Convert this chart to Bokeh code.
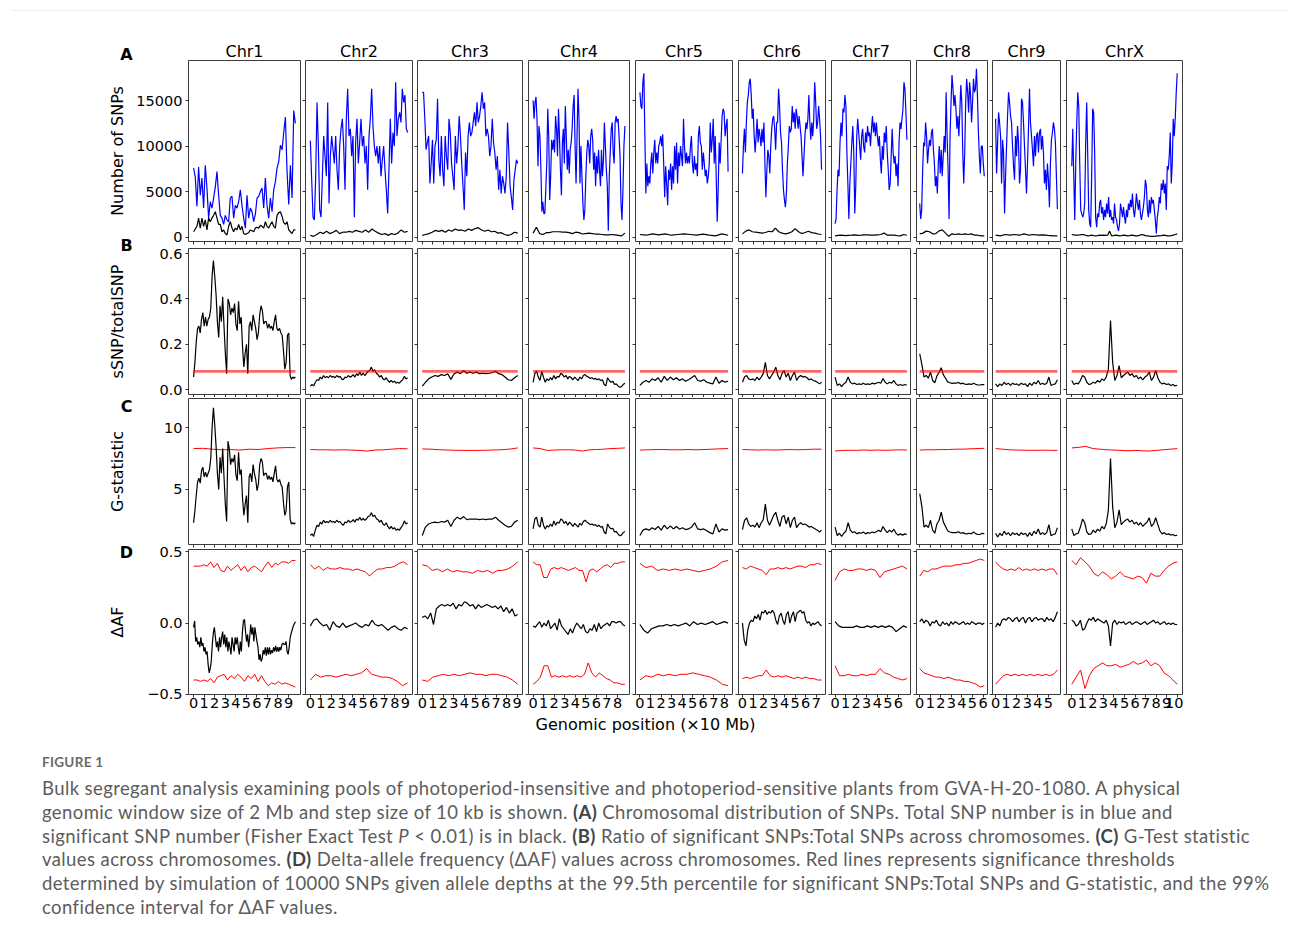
import math
import numpy as np
from bokeh.plotting import figure
from bokeh.layouts import row, column
from bokeh.models import Div, FixedTicker, Label, Range1d
from bokeh.embed import file_html
from bokeh.resources import INLINE

# ---------------- data ----------------
chromosomes = ["Chr1", "Chr2", "Chr3", "Chr4", "Chr5", "Chr6", "Chr7", "Chr8", "Chr9", "ChrX"]
chrom_len_mb = [96.5, 92.2, 90.5, 87.0, 83.6, 75.0, 68.1, 61.2, 58.6, 100.0]
x_tick_max = [9, 9, 9, 8, 8, 7, 6, 6, 5, 10]

# (A) total SNPs (thousands, blue) and significant SNPs (thousands, black)
total_k_chr1 = [7.6, 6.6, 3.4, 7.7, 4.6, 6.5, 3.2, 7.9, 5.4, 2.1, 3.9, 3.2, 4.3, 5.5, 7.2, 4.6, 2.4, 2.1, 1.4, 2.4, 1.9, 1.7, 4.3, 4.5, 2.1, 3.5, 3.2, 3.9, 5.2, 3.5, 2.1, 1.0, 4.6, 2.1, 3.2, 2.8, 1.7, 2.5, 4.3, 4.5, 5.0, 5.4, 3.2, 6.5, 3.5, 2.1, 4.3, 2.8, 5.2, 6.1, 7.6, 8.3, 10.1, 9.6, 11.5, 13.2, 7.2, 3.6, 7.9, 4.3, 13.9, 12.5]
total_k_chr2 = [10.6, 6.3, 2.2, 1.9, 6.7, 14.8, 10.0, 3.0, 2.2, 6.7, 11.1, 8.9, 6.7, 14.8, 3.7, 8.9, 11.1, 9.6, 8.1, 11.1, 7.4, 5.2, 10.0, 11.9, 13.0, 10.0, 5.2, 13.0, 16.3, 11.1, 11.9, 8.9, 11.1, 2.2, 10.4, 13.0, 8.1, 10.4, 13.0, 10.0, 11.1, 8.1, 10.0, 5.2, 11.1, 13.0, 16.3, 12.2, 10.0, 8.9, 10.0, 8.1, 10.0, 6.7, 8.5, 10.0, 7.4, 5.2, 2.6, 7.4, 13.0, 8.1, 11.5, 10.0, 17.0, 11.1, 13.0, 13.7, 12.6, 16.3, 14.8, 15.6, 11.9, 11.5]
total_k_chr3 = [15.9, 15.9, 13.0, 9.6, 10.4, 11.1, 5.9, 8.1, 10.7, 5.9, 10.0, 10.7, 15.2, 8.5, 6.7, 11.1, 7.4, 5.6, 11.1, 8.9, 7.4, 13.0, 11.5, 8.1, 6.7, 5.2, 11.1, 8.1, 10.0, 13.3, 11.1, 8.1, 5.6, 3.0, 9.3, 6.7, 11.1, 12.6, 11.1, 11.5, 12.6, 13.7, 12.2, 14.8, 12.6, 13.3, 14.4, 15.9, 14.1, 14.8, 11.1, 11.9, 11.1, 8.9, 10.0, 13.0, 10.4, 9.3, 7.4, 8.9, 5.2, 7.4, 4.8, 6.7, 5.9, 4.8, 6.7, 12.6, 9.3, 5.6, 4.4, 3.0, 6.3, 7.4, 8.5, 8.1]
total_k_chr4 = [15.0, 13.0, 14.8, 15.4, 13.0, 7.8, 12.2, 11.1, 7.4, 2.8, 3.9, 2.6, 2.6, 5.2, 8.1, 14.1, 11.1, 4.1, 6.7, 10.7, 9.6, 10.7, 9.3, 13.3, 11.9, 8.9, 14.1, 11.1, 7.4, 4.6, 10.4, 11.9, 8.1, 14.4, 11.1, 7.4, 9.6, 7.0, 9.6, 10.4, 11.9, 14.4, 15.6, 10.0, 5.9, 11.1, 16.3, 13.0, 5.9, 10.0, 6.7, 3.7, 1.9, 3.0, 6.7, 9.3, 10.7, 10.0, 8.1, 11.1, 11.9, 10.7, 7.4, 9.3, 5.6, 8.9, 7.0, 9.6, 7.4, 5.6, 9.6, 6.7, 8.5, 12.6, 10.0, 7.4, 5.6, 0.7, 6.7, 9.3, 11.9, 12.6, 9.3, 8.1, 12.6, 13.3, 12.6, 13.0, 11.1, 8.9, 3.7, 1.9, 5.2, 10.0, 12.2]
total_k_chr5 = [15.9, 14.4, 14.1, 17.0, 18.0, 11.1, 4.8, 8.1, 5.6, 6.7, 5.9, 8.1, 9.3, 7.0, 9.3, 10.7, 8.1, 9.3, 8.1, 10.0, 10.4, 11.1, 10.0, 11.3, 8.1, 4.4, 7.8, 5.9, 3.5, 7.4, 6.3, 8.1, 5.2, 7.8, 5.9, 10.0, 7.4, 10.4, 5.9, 9.3, 7.8, 10.0, 8.9, 7.8, 13.0, 10.0, 8.1, 9.3, 8.1, 8.9, 8.1, 10.0, 11.1, 8.1, 7.0, 8.9, 7.4, 8.1, 6.7, 11.1, 12.2, 10.4, 10.0, 7.4, 9.3, 8.1, 6.7, 7.4, 5.9, 6.7, 8.1, 12.6, 9.3, 10.7, 13.0, 8.1, 11.1, 6.7, 1.7, 5.2, 10.4, 8.1, 10.7, 13.3, 14.1, 13.7, 11.1, 12.2, 13.0, 7.2]
total_k_chr6 = [7.0, 10.0, 11.9, 9.3, 12.6, 14.8, 15.6, 17.0, 17.4, 15.6, 13.0, 14.1, 11.1, 9.3, 11.1, 13.0, 10.4, 11.9, 11.1, 10.0, 11.9, 10.4, 12.6, 8.1, 4.4, 7.4, 9.6, 8.9, 7.0, 10.0, 11.9, 13.0, 13.3, 11.9, 9.6, 12.6, 12.6, 16.3, 14.4, 11.5, 10.4, 7.4, 5.2, 4.1, 3.3, 4.8, 8.1, 10.0, 12.2, 11.5, 11.9, 14.4, 12.6, 13.7, 11.9, 14.1, 13.3, 11.9, 13.3, 12.2, 11.1, 8.9, 6.7, 8.9, 11.1, 12.6, 11.9, 13.0, 15.6, 12.6, 10.7, 12.6, 11.1, 13.0, 17.0, 14.8, 11.9, 12.6, 14.4, 13.0, 11.1, 7.4]
total_k_chr7 = [1.5, 2.0, 5.2, 7.4, 6.7, 10.4, 12.6, 11.1, 14.1, 13.7, 15.6, 14.4, 9.3, 5.9, 2.0, 5.9, 8.1, 10.4, 12.2, 9.3, 2.6, 5.6, 11.1, 13.0, 11.5, 10.0, 8.5, 11.1, 11.9, 10.0, 9.3, 11.5, 10.4, 12.2, 11.1, 11.5, 10.0, 11.9, 13.3, 11.5, 12.6, 11.1, 12.6, 11.1, 10.0, 11.1, 8.5, 7.0, 10.0, 8.5, 11.5, 10.4, 12.2, 9.3, 7.4, 5.2, 5.9, 8.9, 11.9, 9.3, 8.1, 8.9, 6.7, 8.1, 5.6, 10.4, 12.6, 11.9, 13.0, 14.1, 17.0, 16.3, 13.7, 10.7]
total_k_chr8 = [3.7, 2.0, 3.0, 7.4, 10.4, 10.0, 12.6, 11.1, 8.1, 9.6, 10.7, 10.0, 11.5, 11.9, 9.6, 8.1, 5.6, 6.7, 4.8, 8.1, 10.0, 7.0, 9.6, 6.7, 8.9, 11.1, 9.3, 15.9, 11.1, 7.4, 2.0, 11.1, 14.8, 17.8, 16.3, 14.4, 15.6, 14.1, 11.9, 13.3, 11.1, 13.7, 16.7, 14.8, 9.3, 5.9, 9.3, 14.8, 17.4, 15.9, 13.7, 17.0, 15.6, 12.6, 14.8, 17.4, 15.9, 16.3, 18.5, 15.6, 11.5, 8.9, 7.0, 10.0, 10.0, 8.1, 6.7]
total_k_chr9 = [13.0, 7.0, 10.4, 13.7, 12.6, 11.1, 5.9, 10.7, 9.3, 2.6, 6.7, 10.0, 13.3, 15.9, 14.8, 13.3, 12.6, 10.0, 7.8, 6.3, 11.1, 8.9, 12.2, 10.4, 5.9, 7.4, 15.2, 14.8, 12.6, 10.0, 7.4, 4.8, 8.1, 11.9, 16.3, 12.6, 11.1, 9.6, 7.8, 11.1, 8.9, 11.1, 11.5, 9.3, 11.5, 11.9, 9.6, 11.1, 9.3, 5.9, 7.4, 5.2, 8.1, 6.3, 3.3, 8.1, 10.7, 11.5, 12.6, 11.9, 10.4, 6.7, 3.1]
total_k_chrX = [7.8, 11.9, 6.7, 1.9, 8.1, 12.6, 15.9, 14.4, 8.1, 3.0, 2.6, 2.2, 2.6, 3.7, 10.4, 14.8, 9.3, 3.0, 1.5, 1.1, 6.7, 14.1, 13.7, 9.3, 2.2, 1.1, 2.6, 2.2, 3.7, 4.1, 2.6, 3.3, 1.9, 3.0, 2.2, 3.7, 2.6, 4.4, 2.2, 3.0, 1.9, 2.2, 1.5, 3.7, 2.2, 1.9, 1.1, 0.7, 1.5, 3.7, 3.0, 2.2, 3.3, 2.2, 1.5, 3.0, 2.2, 3.7, 3.0, 4.1, 3.3, 4.8, 3.0, 2.2, 3.3, 4.8, 3.7, 3.0, 4.1, 2.6, 1.9, 2.6, 3.3, 4.4, 6.3, 5.6, 3.0, 2.2, 4.1, 2.6, 4.4, 3.7, 4.1, 3.0, 1.9, 0.4, 2.2, 3.0, 4.4, 3.7, 5.9, 5.2, 6.3, 4.8, 5.9, 3.0, 7.8, 7.4, 8.9, 11.5, 5.9, 8.1, 13.0, 11.1, 13.0, 15.9, 18.0]

sig_k_chr1 = [0.6, 0.9, 1.2, 2.1, 1.0, 2.1, 1.2, 1.9, 0.8, 2.1, 1.7, 2.1, 2.4, 2.8, 2.1, 1.4, 1.4, 0.6, 0.8, 0.4, 0.25, 1.2, 1.7, 1.0, 0.6, 1.0, 0.8, 1.4, 0.8, 1.2, 0.4, 0.3, 0.4, 0.5, 0.8, 0.7, 0.6, 1.0, 1.1, 1.0, 1.3, 1.2, 1.0, 1.7, 1.2, 1.0, 1.4, 1.7, 1.2, 1.0, 2.4, 2.7, 2.8, 2.3, 1.6, 1.4, 1.7, 0.8, 0.6, 0.4, 0.8, 0.8]
sig_k_chr2 = [0.2, 0.1, 0.3, 0.55, 0.4, 0.65, 0.4, 0.55, 0.75, 0.4, 0.55, 0.55, 0.65, 0.55, 0.75, 0.65, 0.55, 0.8, 0.55, 0.9, 0.65, 0.45, 0.3, 0.4, 0.2, 0.4, 0.3, 0.45, 0.8, 0.55, 0.65]
sig_k_chr3 = [0.2, 0.3, 0.4, 0.55, 0.75, 0.65, 0.75, 0.55, 0.8, 0.65, 0.9, 0.75, 0.8, 0.65, 0.9, 0.75, 0.95, 1.05, 0.8, 0.65, 0.8, 0.6, 0.65, 0.45, 0.5, 0.3, 0.2, 0.3, 0.55, 0.45]
sig_k_chr4 = [0.45, 1.1, 0.4, 0.3, 0.5, 0.5, 0.6, 0.6, 0.6, 0.55, 0.55, 0.5, 0.4, 0.55, 0.5, 0.35, 0.4, 0.45, 0.4, 0.35, 0.35, 0.3, 0.25, 0.25, 0.3, 0.25, 0.2, 0.15, 0.45]
sig_k_chr5 = [0.3, 0.22, 0.37, 0.26, 0.37, 0.22, 0.3, 0.37, 0.3, 0.22, 0.33, 0.22, 0.15, 0.37, 0.22]
sig_k_chr6 = [0.37, 0.67, 0.8, 0.6, 0.55, 0.5, 0.45, 0.52, 0.65, 0.6, 1.0, 0.6, 0.45, 0.37, 0.45, 0.6, 0.95, 0.6, 0.4, 0.52, 0.65, 0.5, 0.45, 0.35, 0.3]
sig_k_chr7 = [0.15, 0.2, 0.22, 0.18, 0.2, 0.22, 0.26, 0.2, 0.22, 0.26, 0.26, 0.22, 0.22, 0.26, 0.3, 0.45, 0.22, 0.22, 0.22, 0.18, 0.15, 0.3, 0.22]
sig_k_chr8 = [0.37, 0.45, 0.67, 0.6, 0.37, 0.4, 0.7, 0.8, 0.45, 0.1, 0.37, 0.3, 0.37, 0.3, 0.37, 0.3, 0.37, 0.22, 0.22, 0.15, 0.15]
sig_k_chr9 = [0.22, 0.15, 0.3, 0.22, 0.3, 0.22, 0.37, 0.22, 0.3, 0.22, 0.26, 0.2, 0.15, 0.15]
sig_k_chrX = [0.3, 0.25, 0.22, 0.22, 0.25, 0.3, 0.28, 0.22, 0.15, 0.18, 0.22, 0.18, 0.15, 0.18, 0.22, 0.2, 0.22, 0.2, 0.22, 0.67, 0.15, 0.18, 0.22, 0.2, 0.15, 0.18, 0.22, 0.2, 0.15, 0.18, 0.22, 0.2, 0.15, 0.15, 0.2, 0.3, 0.25, 0.18, 0.15, 0.12, 0.1, 0.1, 0.12, 0.15, 0.15, 0.18, 0.22, 0.2, 0.15, 0.15, 0.18, 0.22, 0.3, 0.37]

# (B) ratio of significant to total SNPs
ratio_threshold = 0.08
ratio_chr1 = [0.055, 0.12, 0.21, 0.27, 0.28, 0.25, 0.31, 0.34, 0.28, 0.32, 0.28, 0.31, 0.32, 0.36, 0.50, 0.57, 0.50, 0.42, 0.30, 0.23, 0.37, 0.30, 0.41, 0.28, 0.16, 0.07, 0.40, 0.38, 0.33, 0.36, 0.34, 0.38, 0.29, 0.26, 0.39, 0.29, 0.32, 0.19, 0.10, 0.16, 0.20, 0.07, 0.28, 0.30, 0.26, 0.33, 0.30, 0.27, 0.22, 0.25, 0.33, 0.37, 0.35, 0.29, 0.30, 0.30, 0.27, 0.29, 0.27, 0.28, 0.26, 0.30, 0.33, 0.27, 0.26, 0.27, 0.25, 0.24, 0.17, 0.09, 0.12, 0.24, 0.25, 0.06, 0.045, 0.055, 0.05, 0.055]
ratio_chr2 = [0.015, 0.022, 0.016, 0.032, 0.043, 0.04, 0.055, 0.047, 0.062, 0.052, 0.058, 0.052, 0.062, 0.055, 0.058, 0.052, 0.062, 0.055, 0.058, 0.047, 0.043, 0.055, 0.052, 0.062, 0.055, 0.058, 0.066, 0.055, 0.07, 0.062, 0.077, 0.062, 0.072, 0.062, 0.07, 0.081, 0.084, 0.099, 0.081, 0.087, 0.072, 0.066, 0.055, 0.062, 0.047, 0.043, 0.052, 0.04, 0.032, 0.04, 0.032, 0.037, 0.028, 0.032, 0.028, 0.037, 0.043, 0.058, 0.047, 0.052]
ratio_chr3 = [0.015, 0.032, 0.047, 0.055, 0.062, 0.058, 0.066, 0.062, 0.07, 0.045, 0.07, 0.077, 0.07, 0.084, 0.072, 0.077, 0.072, 0.077, 0.07, 0.072, 0.07, 0.072, 0.075, 0.081, 0.07, 0.066, 0.055, 0.043, 0.04, 0.052, 0.062]
ratio_chr4 = [0.032, 0.07, 0.081, 0.055, 0.04, 0.08, 0.055, 0.032, 0.047, 0.04, 0.052, 0.043, 0.062, 0.047, 0.058, 0.055, 0.072, 0.066, 0.055, 0.062, 0.047, 0.058, 0.052, 0.043, 0.055, 0.047, 0.04, 0.055, 0.047, 0.062, 0.066, 0.058, 0.055, 0.049, 0.052, 0.046, 0.049, 0.043, 0.047, 0.04, 0.043, 0.022, 0.016, 0.052, 0.04, 0.032, 0.037, 0.022, 0.025, 0.016, 0.01, 0.013, 0.022, 0.028]
ratio_chr5 = [0.018, 0.032, 0.04, 0.032, 0.047, 0.04, 0.052, 0.032, 0.058, 0.04, 0.055, 0.043, 0.052, 0.04, 0.047, 0.037, 0.043, 0.052, 0.062, 0.04, 0.037, 0.043, 0.032, 0.028, 0.025, 0.055, 0.028, 0.04, 0.032, 0.037]
ratio_chr6 = [0.032, 0.055, 0.062, 0.047, 0.043, 0.047, 0.04, 0.055, 0.043, 0.055, 0.07, 0.12, 0.062, 0.047, 0.062, 0.077, 0.099, 0.062, 0.043, 0.07, 0.084, 0.055, 0.072, 0.04, 0.062, 0.077, 0.04, 0.055, 0.062, 0.055, 0.058, 0.052, 0.043, 0.047, 0.04, 0.037, 0.032, 0.025, 0.032]
ratio_chr7 = [0.055, 0.018, 0.025, 0.013, 0.025, 0.032, 0.055, 0.032, 0.025, 0.028, 0.022, 0.025, 0.022, 0.028, 0.022, 0.025, 0.022, 0.028, 0.025, 0.028, 0.032, 0.028, 0.049, 0.032, 0.025, 0.032, 0.028, 0.04, 0.025, 0.018, 0.022, 0.018, 0.022, 0.019]
ratio_chr8 = [0.158, 0.11, 0.055, 0.062, 0.05, 0.077, 0.04, 0.03, 0.06, 0.075, 0.096, 0.065, 0.05, 0.034, 0.03, 0.027, 0.028, 0.028, 0.031, 0.025, 0.028, 0.024, 0.023, 0.025, 0.022, 0.028, 0.023, 0.02, 0.02, 0.022, 0.022]
ratio_chr9 = [0.025, 0.013, 0.025, 0.018, 0.032, 0.022, 0.028, 0.018, 0.028, 0.022, 0.025, 0.018, 0.028, 0.022, 0.025, 0.013, 0.028, 0.018, 0.032, 0.025, 0.04, 0.022, 0.028, 0.022, 0.028, 0.055, 0.018, 0.022, 0.025, 0.043]
ratio_chrX = [0.04, 0.022, 0.028, 0.025, 0.04, 0.062, 0.055, 0.032, 0.022, 0.025, 0.032, 0.028, 0.04, 0.032, 0.047, 0.04, 0.055, 0.09, 0.305, 0.12, 0.04, 0.062, 0.106, 0.052, 0.062, 0.07, 0.077, 0.062, 0.07, 0.055, 0.062, 0.047, 0.055, 0.043, 0.055, 0.062, 0.077, 0.04, 0.055, 0.084, 0.052, 0.032, 0.025, 0.028, 0.022, 0.025, 0.018, 0.022, 0.016, 0.019]

# (C) G-statistic and its threshold
gstat_chr1 = [2.3, 3.3, 4.5, 5.6, 5.9, 5.5, 6.5, 6.8, 6.0, 6.4, 6.0, 6.3, 6.6, 7.5, 10.0, 11.6, 10.2, 8.5, 6.3, 5.0, 7.6, 6.3, 8.3, 6.0, 3.8, 2.4, 8.9, 8.3, 7.0, 7.5, 7.2, 7.8, 6.2, 5.7, 8.0, 6.2, 6.6, 4.3, 2.9, 3.8, 4.5, 2.3, 6.0, 6.3, 5.6, 7.0, 6.3, 5.8, 4.9, 5.4, 7.0, 7.5, 7.2, 6.1, 6.3, 6.3, 5.8, 6.1, 5.8, 6.0, 5.6, 6.3, 6.9, 5.8, 5.6, 5.8, 5.4, 5.2, 3.9, 2.9, 3.3, 5.2, 5.6, 2.6, 2.2, 2.3, 2.2, 2.3]
gstat_chr2 = [1.27, 1.4, 1.2, 1.7, 2.1, 2.0, 2.35, 2.2, 2.5, 2.3, 2.4, 2.3, 2.5, 2.35, 2.4, 2.3, 2.5, 2.35, 2.4, 2.2, 2.1, 2.35, 2.3, 2.5, 2.35, 2.4, 2.55, 2.35, 2.6, 2.5, 2.75, 2.5, 2.65, 2.5, 2.6, 2.8, 2.85, 3.1, 2.8, 2.9, 2.65, 2.55, 2.35, 2.5, 2.2, 2.1, 2.3, 2.0, 1.8, 2.0, 1.8, 1.9, 1.7, 1.8, 1.7, 1.9, 2.1, 2.45, 2.2, 2.3]
gstat_chr3 = [1.27, 1.95, 2.2, 2.3, 2.35, 2.3, 2.4, 2.35, 2.5, 2.0, 2.5, 2.75, 2.6, 2.8, 2.55, 2.6, 2.6, 2.6, 2.55, 2.6, 2.55, 2.6, 2.6, 2.75, 2.5, 2.3, 2.1, 1.95, 2.0, 2.35, 2.5]
gstat_chr4 = [1.8, 2.6, 2.75, 2.1, 1.95, 2.75, 2.1, 1.8, 2.05, 1.95, 2.2, 2.0, 2.45, 2.1, 2.35, 2.25, 2.6, 2.5, 2.25, 2.4, 2.1, 2.35, 2.2, 2.0, 2.25, 2.1, 1.95, 2.25, 2.1, 2.4, 2.5, 2.35, 2.25, 2.15, 2.2, 2.1, 2.15, 2.0, 2.1, 1.95, 2.0, 1.55, 1.4, 2.2, 1.95, 1.8, 1.85, 1.55, 1.6, 1.4, 1.25, 1.3, 1.5, 1.6]
gstat_chr5 = [1.27, 1.7, 1.8, 1.7, 1.9, 1.75, 2.0, 1.7, 2.1, 1.8, 2.05, 1.8, 2.0, 1.78, 1.9, 1.75, 1.8, 1.95, 2.3, 1.8, 1.75, 1.8, 1.65, 1.5, 1.4, 2.2, 1.55, 1.8, 1.7, 1.75]
gstat_chr6 = [1.75, 2.5, 2.7, 2.2, 2.0, 2.1, 1.95, 2.3, 1.9, 2.3, 2.55, 3.8, 2.5, 2.1, 2.5, 2.9, 3.15, 2.5, 2.0, 2.75, 2.9, 2.2, 2.75, 1.9, 2.5, 2.75, 1.9, 2.15, 2.3, 2.15, 2.2, 2.1, 1.95, 2.0, 1.9, 1.8, 1.7, 1.55, 1.7]
gstat_chr7 = [1.95, 1.27, 1.45, 1.2, 1.45, 1.62, 2.3, 1.7, 1.5, 1.57, 1.4, 1.5, 1.45, 1.55, 1.4, 1.5, 1.45, 1.55, 1.5, 1.57, 1.7, 1.57, 2.0, 1.7, 1.5, 1.7, 1.55, 1.78, 1.45, 1.3, 1.4, 1.3, 1.4, 1.35]
gstat_chr8 = [4.65, 3.6, 1.95, 2.1, 1.9, 2.5, 1.7, 1.45, 2.2, 2.5, 3.15, 2.35, 2.0, 1.65, 1.55, 1.5, 1.5, 1.5, 1.57, 1.45, 1.5, 1.42, 1.4, 1.45, 1.4, 1.55, 1.42, 1.35, 1.35, 1.45, 1.4]
gstat_chr9 = [1.45, 1.15, 1.45, 1.25, 1.62, 1.35, 1.5, 1.25, 1.5, 1.35, 1.45, 1.25, 1.5, 1.35, 1.45, 1.2, 1.5, 1.25, 1.62, 1.4, 1.8, 1.35, 1.5, 1.35, 1.5, 2.15, 1.25, 1.35, 1.4, 1.9]
gstat_chrX = [1.8, 1.27, 1.4, 1.45, 1.95, 2.6, 2.3, 1.55, 1.35, 1.4, 1.7, 1.5, 1.78, 1.62, 2.0, 1.8, 2.2, 3.3, 7.5, 3.6, 1.9, 2.35, 3.35, 2.15, 2.35, 2.5, 2.6, 2.35, 2.5, 2.2, 2.35, 2.1, 2.3, 2.0, 2.2, 2.35, 2.7, 2.0, 2.2, 2.7, 2.15, 1.62, 1.4, 1.5, 1.35, 1.4, 1.3, 1.35, 1.25, 1.3]

gthr_chr1 = [8.3, 8.32, 8.25, 8.2, 8.22, 8.18, 8.25, 8.22, 8.3, 8.35, 8.38, 8.38]
gthr_chr2 = [8.22, 8.2, 8.2, 8.18, 8.2, 8.18, 8.15, 8.1, 8.18, 8.2, 8.25, 8.3, 8.28]
gthr_chr3 = [8.27, 8.25, 8.2, 8.18, 8.16, 8.15, 8.15, 8.16, 8.18, 8.2, 8.25, 8.35]
gthr_chr4 = [8.35, 8.3, 8.15, 8.18, 8.2, 8.2, 8.18, 8.1, 8.2, 8.22, 8.25, 8.3, 8.32, 8.35]
gthr_chr5 = [8.18, 8.2, 8.22, 8.22, 8.2, 8.2, 8.22, 8.2, 8.22, 8.25, 8.28, 8.3]
gthr_chr6 = [8.22, 8.2, 8.18, 8.2, 8.18, 8.2, 8.22, 8.2, 8.22, 8.25, 8.25]
gthr_chr7 = [8.1, 8.15, 8.16, 8.16, 8.18, 8.16, 8.18, 8.16, 8.18, 8.2, 8.18]
gthr_chr8 = [8.18, 8.2, 8.2, 8.22, 8.22, 8.25, 8.25, 8.28, 8.3, 8.32]
gthr_chr9 = [8.3, 8.25, 8.2, 8.18, 8.17, 8.16, 8.16, 8.17, 8.16, 8.15]
gthr_chrX = [8.35, 8.4, 8.48, 8.3, 8.25, 8.2, 8.18, 8.15, 8.12, 8.15, 8.12, 8.1, 8.15, 8.2, 8.25, 8.3]

# (D) delta allele frequency with 99% confidence interval
daf_chr1 = [-0.03, 0.015, -0.13, -0.10, -0.15, -0.13, -0.17, -0.10, -0.16, -0.14, -0.20, -0.17, -0.22, -0.20, -0.29, -0.35, -0.32, -0.27, -0.15, -0.07, -0.03, -0.10, -0.17, -0.13, -0.20, -0.10, -0.17, -0.10, -0.06, -0.15, -0.08, -0.17, -0.10, -0.20, -0.13, -0.17, -0.22, -0.10, -0.15, -0.20, -0.10, -0.15, -0.10, -0.17, -0.22, -0.13, -0.20, -0.06, 0.015, 0.026, -0.06, -0.13, -0.08, -0.17, -0.10, -0.01, -0.08, -0.03, -0.13, -0.03, -0.08, -0.13, -0.17, -0.26, -0.22, -0.27, -0.25, -0.19, -0.22, -0.17, -0.23, -0.17, -0.22, -0.17, -0.22, -0.19, -0.21, -0.17, -0.20, -0.16, -0.20, -0.17, -0.20, -0.17, -0.19, -0.15, -0.14, -0.15, -0.15, -0.13, -0.20, -0.22, -0.17, -0.10, -0.07, -0.045, -0.02, -0.005, 0.01]
daf_chr2 = [-0.02, 0.02, 0.03, 0.0, -0.02, -0.01, -0.05, 0.01, -0.02, -0.03, 0.0, -0.03, -0.02, -0.01, 0.0, -0.02, -0.03, -0.01, -0.02, 0.02, -0.01, -0.02, -0.01, -0.03, -0.05, -0.03, -0.02, -0.04, -0.05, -0.03, -0.04]
daf_chr3 = [0.04, 0.05, 0.03, 0.07, -0.01, 0.10, 0.12, 0.13, 0.12, 0.13, 0.12, 0.14, 0.10, 0.13, 0.12, 0.15, 0.14, 0.12, 0.13, 0.10, 0.13, 0.11, 0.12, 0.13, 0.12, 0.11, 0.12, 0.10, 0.12, 0.08, 0.11, 0.07, 0.10, 0.05, 0.06]
daf_chr4 = [-0.02, -0.03, -0.01, 0.01, -0.03, 0.0, -0.02, 0.02, -0.04, -0.02, 0.0, -0.05, 0.03, -0.02, -0.04, -0.06, -0.08, -0.04, -0.07, -0.03, 0.0, -0.02, -0.04, -0.01, -0.06, -0.07, -0.04, -0.05, -0.01, -0.06, 0.0, -0.04, -0.02, -0.01, 0.0, -0.02, 0.01, 0.01, 0.0, 0.01, 0.01, -0.01, -0.02]
daf_chr5 = [-0.01, -0.05, -0.07, -0.04, -0.03, -0.02, -0.02, -0.01, -0.02, -0.01, -0.02, -0.01, 0.0, -0.02, 0.01, -0.01, 0.0, -0.01, 0.0, 0.01, -0.01, 0.0, 0.01, 0.0]
daf_chr6 = [0.0, -0.12, -0.16, -0.05, 0.0, 0.02, 0.01, 0.05, 0.03, 0.06, 0.02, 0.08, 0.07, 0.09, 0.06, 0.08, 0.07, 0.09, 0.07, 0.02, -0.01, 0.05, 0.07, 0.02, -0.01, 0.06, 0.08, 0.0, 0.05, 0.08, 0.01, 0.07, 0.08, 0.09, 0.07, 0.08, 0.02, 0.0, 0.01, -0.02, 0.0, -0.01, 0.0, 0.01, -0.01, -0.02]
daf_chr7 = [0.01, -0.02, -0.03, -0.03, -0.03, -0.03, -0.02, -0.03, -0.03, -0.02, -0.03, -0.02, -0.03, -0.02, -0.03, -0.02, -0.03, -0.06, -0.04, -0.02, -0.03]
daf_chr8 = [0.01, 0.03, 0.0, 0.02, 0.01, -0.02, 0.01, 0.0, 0.02, -0.01, -0.02, 0.01, -0.01, 0.0, -0.02, 0.01, -0.01, 0.01, 0.0, -0.01, 0.0, 0.01, -0.01, 0.0, -0.01, 0.01, 0.0, -0.01, 0.0, 0.0, -0.01, 0.0]
daf_chr9 = [-0.03, 0.0, -0.02, 0.02, 0.03, 0.02, 0.04, 0.03, 0.01, 0.03, 0.04, 0.01, 0.03, 0.04, 0.0, 0.03, 0.04, 0.01, 0.03, 0.04, 0.02, 0.03, 0.03, 0.01, 0.04, 0.02, 0.03, 0.01, 0.04, 0.08]
daf_chrX = [0.02, 0.01, -0.02, -0.01, 0.02, -0.05, -0.04, 0.0, 0.03, 0.02, 0.04, 0.01, 0.03, 0.02, 0.01, 0.0, 0.02, -0.02, -0.16, 0.0, 0.02, -0.01, 0.01, 0.0, 0.01, -0.01, 0.0, 0.01, -0.01, 0.0, 0.01, 0.0, -0.01, 0.0, 0.01, -0.01, 0.0, 0.01, 0.02, 0.0, 0.01, -0.01, 0.0, 0.01, -0.01, 0.0, -0.01, 0.0, -0.01, -0.01]

daf_hi_chr1 = [0.40, 0.40, 0.40, 0.41, 0.40, 0.43, 0.39, 0.42, 0.37, 0.36, 0.40, 0.37, 0.39, 0.41, 0.37, 0.40, 0.36, 0.39, 0.40, 0.38, 0.36, 0.40, 0.43, 0.39, 0.42, 0.41, 0.43, 0.43, 0.42, 0.44, 0.44]
daf_hi_chr2 = [0.41, 0.38, 0.40, 0.37, 0.39, 0.38, 0.38, 0.39, 0.38, 0.38, 0.37, 0.38, 0.37, 0.36, 0.33, 0.36, 0.38, 0.38, 0.39, 0.39, 0.40, 0.42, 0.43, 0.41]
daf_hi_chr3 = [0.41, 0.40, 0.37, 0.38, 0.36, 0.38, 0.36, 0.37, 0.36, 0.36, 0.35, 0.37, 0.36, 0.37, 0.35, 0.37, 0.37, 0.38, 0.40, 0.43]
daf_hi_chr4 = [0.43, 0.41, 0.41, 0.32, 0.32, 0.38, 0.39, 0.38, 0.39, 0.38, 0.37, 0.38, 0.39, 0.37, 0.37, 0.29, 0.37, 0.38, 0.36, 0.38, 0.40, 0.41, 0.39, 0.42, 0.42, 0.43, 0.43]
daf_hi_chr5 = [0.42, 0.39, 0.40, 0.37, 0.38, 0.37, 0.38, 0.37, 0.38, 0.37, 0.36, 0.37, 0.38, 0.40, 0.43, 0.44]
daf_hi_chr6 = [0.39, 0.38, 0.40, 0.39, 0.38, 0.37, 0.34, 0.38, 0.38, 0.39, 0.38, 0.39, 0.38, 0.39, 0.40, 0.40, 0.39, 0.41, 0.41, 0.42, 0.41]
daf_hi_chr7 = [0.30, 0.36, 0.38, 0.37, 0.37, 0.38, 0.38, 0.37, 0.38, 0.37, 0.32, 0.36, 0.37, 0.38, 0.39, 0.40, 0.38]
daf_hi_chr8 = [0.33, 0.37, 0.36, 0.38, 0.38, 0.39, 0.40, 0.40, 0.40, 0.41, 0.41, 0.42, 0.42, 0.43, 0.44, 0.45, 0.44]
daf_hi_chr9 = [0.43, 0.40, 0.38, 0.37, 0.38, 0.37, 0.39, 0.37, 0.38, 0.37, 0.38, 0.37, 0.38, 0.37, 0.38, 0.38, 0.34]
daf_hi_chrX = [0.44, 0.41, 0.46, 0.43, 0.40, 0.35, 0.33, 0.36, 0.34, 0.31, 0.33, 0.36, 0.33, 0.32, 0.31, 0.33, 0.32, 0.28, 0.35, 0.33, 0.33, 0.37, 0.40, 0.42, 0.43]

daf_lo_chr1 = [-0.40, -0.40, -0.41, -0.40, -0.41, -0.39, -0.42, -0.38, -0.37, -0.36, -0.40, -0.37, -0.39, -0.36, -0.38, -0.41, -0.37, -0.39, -0.36, -0.41, -0.37, -0.41, -0.44, -0.42, -0.43, -0.41, -0.43, -0.42, -0.43, -0.44, -0.45]
daf_lo_chr2 = [-0.40, -0.36, -0.38, -0.37, -0.37, -0.38, -0.37, -0.36, -0.37, -0.36, -0.35, -0.32, -0.36, -0.37, -0.38, -0.38, -0.39, -0.41, -0.44, -0.42]
daf_lo_chr3 = [-0.40, -0.41, -0.38, -0.37, -0.36, -0.37, -0.36, -0.37, -0.36, -0.35, -0.36, -0.36, -0.37, -0.36, -0.36, -0.37, -0.38, -0.40, -0.43]
daf_lo_chr4 = [-0.43, -0.41, -0.38, -0.30, -0.30, -0.38, -0.37, -0.38, -0.37, -0.38, -0.37, -0.38, -0.37, -0.38, -0.36, -0.28, -0.35, -0.38, -0.35, -0.37, -0.39, -0.40, -0.42, -0.42, -0.43, -0.43]
daf_lo_chr5 = [-0.40, -0.37, -0.38, -0.36, -0.37, -0.36, -0.37, -0.36, -0.36, -0.35, -0.36, -0.37, -0.38, -0.40, -0.43, -0.44]
daf_lo_chr6 = [-0.39, -0.38, -0.39, -0.38, -0.37, -0.37, -0.33, -0.37, -0.38, -0.37, -0.38, -0.37, -0.38, -0.39, -0.38, -0.39, -0.38, -0.39, -0.39, -0.40, -0.40]
daf_lo_chr7 = [-0.30, -0.37, -0.37, -0.36, -0.37, -0.37, -0.36, -0.37, -0.36, -0.36, -0.32, -0.35, -0.36, -0.38, -0.39, -0.40, -0.39]
daf_lo_chr8 = [-0.32, -0.35, -0.36, -0.37, -0.38, -0.38, -0.39, -0.38, -0.39, -0.40, -0.40, -0.41, -0.41, -0.42, -0.43, -0.45, -0.44]
daf_lo_chr9 = [-0.43, -0.40, -0.37, -0.36, -0.37, -0.36, -0.37, -0.36, -0.37, -0.36, -0.37, -0.36, -0.37, -0.36, -0.37, -0.36, -0.33]
daf_lo_chrX = [-0.43, -0.38, -0.33, -0.46, -0.37, -0.32, -0.30, -0.28, -0.30, -0.30, -0.29, -0.31, -0.30, -0.29, -0.27, -0.29, -0.28, -0.26, -0.30, -0.28, -0.30, -0.35, -0.37, -0.40, -0.43]

total_k = [total_k_chr1, total_k_chr2, total_k_chr3, total_k_chr4, total_k_chr5, total_k_chr6, total_k_chr7, total_k_chr8, total_k_chr9, total_k_chrX]
sig_k = [sig_k_chr1, sig_k_chr2, sig_k_chr3, sig_k_chr4, sig_k_chr5, sig_k_chr6, sig_k_chr7, sig_k_chr8, sig_k_chr9, sig_k_chrX]
ratio = [ratio_chr1, ratio_chr2, ratio_chr3, ratio_chr4, ratio_chr5, ratio_chr6, ratio_chr7, ratio_chr8, ratio_chr9, ratio_chrX]
gstat = [gstat_chr1, gstat_chr2, gstat_chr3, gstat_chr4, gstat_chr5, gstat_chr6, gstat_chr7, gstat_chr8, gstat_chr9, gstat_chrX]
gthr = [gthr_chr1, gthr_chr2, gthr_chr3, gthr_chr4, gthr_chr5, gthr_chr6, gthr_chr7, gthr_chr8, gthr_chr9, gthr_chrX]
daf = [daf_chr1, daf_chr2, daf_chr3, daf_chr4, daf_chr5, daf_chr6, daf_chr7, daf_chr8, daf_chr9, daf_chrX]
daf_hi = [daf_hi_chr1, daf_hi_chr2, daf_hi_chr3, daf_hi_chr4, daf_hi_chr5, daf_hi_chr6, daf_hi_chr7, daf_hi_chr8, daf_hi_chr9, daf_hi_chrX]
daf_lo = [daf_lo_chr1, daf_lo_chr2, daf_lo_chr3, daf_lo_chr4, daf_lo_chr5, daf_lo_chr6, daf_lo_chr7, daf_lo_chr8, daf_lo_chr9, daf_lo_chrX]

# ---------------- layout / style ----------------
FONT = "DejaVu Sans"
TICK_FS = "14.5px"
PX_PER_UNIT = 10.55          # pixels per 10 Mb
GUTTER_W = 184               # left column holding y tick labels, axis titles, panel letters
GAPS = [4, 4, 4, 5, 5, 5, 5, 5, 4, 5]   # left border before each chromosome frame

rows_cfg = [
    dict(frame_h=181, top=49, bottom=6, yr=(-470, 19400), ticks=[0, 5000, 10000, 15000],
         labels=["0", "5000", "10000", "15000"], ylabel="Number of SNPs", letter="A", letter_dy=-6),
    dict(frame_h=146, top=1, bottom=3, yr=(-0.022, 0.623), ticks=[0, 0.2, 0.4, 0.6],
         labels=["0.0", "0.2", "0.4", "0.6"], ylabel="sSNP/totalSNP", letter="B", letter_dy=-3),
    dict(frame_h=146, top=1, bottom=4, yr=(0.54, 12.35), ticks=[5, 10],
         labels=["5", "10"], ylabel="G-statistic", letter="C", letter_dy=8),
    dict(frame_h=145, top=1, bottom=20, yr=(-0.502, 0.517), ticks=[-0.5, 0, 0.5],
         labels=["\u22120.5", "0.0", "0.5"], ylabel="\u0394AF", letter="D", letter_dy=3),
]


def xs(vals, L):
    return np.linspace(0, L, len(vals))


def make_panel(r, c):
    cfg = rows_cfg[r]
    L = chrom_len_mb[c] / 10.0
    fw = int(round(1.1 * L * PX_PER_UNIT))
    p = figure(frame_width=fw, frame_height=cfg["frame_h"], output_backend="svg",
               toolbar_location=None,
               x_range=Range1d(-0.05 * L, 1.05 * L), y_range=Range1d(*cfg["yr"]),
               min_border_left=GAPS[c], min_border_right=1,
               min_border_top=cfg["top"], min_border_bottom=cfg["bottom"])
    p.background_fill_color = "white"
    p.border_fill_color = "white"
    p.outline_line_color = "#3c3c3c"
    p.outline_line_width = 1
    p.grid.visible = False

    xa, ya = p.xaxis[0], p.yaxis[0]
    for ax in (xa, ya):
        ax.axis_line_color = None
        ax.major_tick_line_color = "#333333"
        ax.major_tick_out = 3
        ax.major_tick_in = 0
        ax.minor_tick_line_color = None
        ax.major_label_text_font = FONT
        ax.major_label_text_color = "black"
        ax.major_label_standoff = 0

    xt = list(range(0, x_tick_max[c] + 1))
    xa.ticker = FixedTicker(ticks=xt)
    if r == 3:
        xa.major_label_text_font_size = TICK_FS
        xa.major_label_overrides = {t: str(t) for t in xt}
    else:
        xa.major_label_text_font_size = "0px"
        xa.major_label_overrides = {t: "" for t in xt}

    ya.ticker = FixedTicker(ticks=cfg["ticks"])
    ya.major_label_text_font_size = "0px"
    ya.major_label_overrides = {t: "" for t in cfg["ticks"]}

    if r == 0:
        p.title.text = chromosomes[c]
        p.title.align = "center"
        p.title.text_font = FONT
        p.title.text_font_size = "16px"
        p.title.text_font_style = "normal"
        p.title.text_color = "black"
        p.title.standoff = 0
        tk = total_k[c]
        sk = sig_k[c]
        p.line(xs(tk, L), [v * 1000 for v in tk], line_color="#0000ff", line_width=1.2)
        p.line(xs(sk, L), [v * 1000 for v in sk], line_color="black", line_width=1.2)
    elif r == 1:
        rv = ratio[c]
        p.line(xs(rv, L), rv, line_color="black", line_width=1.2)
        p.line([0, L], [ratio_threshold, ratio_threshold], line_color="#ff0000",
               line_alpha=0.6, line_width=2.8)
    elif r == 2:
        th = gthr[c]
        gv = gstat[c]
        p.line(xs(th, L), th, line_color="#ff0000", line_width=1.0)
        p.line(xs(gv, L), gv, line_color="black", line_width=1.2)
    else:
        hi = daf_hi[c]
        lo = daf_lo[c]
        dv = daf[c]
        p.line(xs(hi, L), hi, line_color="#ff0000", line_width=1.0)
        p.line(xs(lo, L), lo, line_color="#ff0000", line_width=1.0)
        p.line(xs(dv, L), dv, line_color="black", line_width=1.2)
    return p


grid_rows = [row([make_panel(r, c) for c in range(10)], spacing=0) for r in range(4)]

# ---- gutter: one tall canvas with the y tick labels, y titles and panel letters ----
row_h = [cfg["top"] + cfg["frame_h"] + cfg["bottom"] for cfg in rows_cfg]
H = sum(row_h)
extra = {}
panel_pos = []
acc = 0
for r, cfg in enumerate(rows_cfg):
    t = acc + cfg["top"]
    b = t + cfg["frame_h"]
    lo, hi = cfg["yr"]
    per = (hi - lo) / cfg["frame_h"]
    start = lo - (H - b) * per
    extra["r%d" % r] = Range1d(start, start + H * per)
    panel_pos.append((t, b))
    acc += row_h[r]

gut = figure(width=GUTTER_W, height=H, output_backend="svg", toolbar_location=None,
             x_range=Range1d(0, GUTTER_W), y_range=Range1d(0, H),
             x_axis_location=None, y_axis_location=None,
             min_border_left=0, min_border_right=0, min_border_top=0, min_border_bottom=0)
gut.extra_y_ranges = extra
gut.outline_line_color = None
gut.grid.visible = False
gut.background_fill_color = "white"
gut.border_fill_color = "white"
for r, cfg in enumerate(rows_cfg):
    name = "r%d" % r
    lo, hi = cfg["yr"]
    for tv, tl in zip(cfg["ticks"], cfg["labels"]):
        gut.add_layout(Label(x=GUTTER_W - 2, x_units="screen", y=tv, y_range_name=name,
                             text=tl, text_align="right", text_baseline="middle",
                             text_font=FONT, text_font_size=TICK_FS, text_color="black"))
    gut.add_layout(Label(x=117, x_units="screen", y=(lo + hi) / 2.0, y_range_name=name,
                         text=cfg["ylabel"], angle=math.pi / 2, text_align="center",
                         text_baseline="middle", text_font=FONT, text_font_size="16px",
                         text_color="black"))
    t, b = panel_pos[r]
    gut.add_layout(Label(x=126, x_units="screen", y=H - (t + cfg["letter_dy"]), y_units="screen",
                         text=cfg["letter"], text_align="center", text_baseline="middle",
                         text_font=FONT, text_font_size="16px", text_font_style="bold",
                         text_color="black"))

grid_w = GUTTER_W + sum(int(round(1.1 * (chrom_len_mb[c] / 10.0) * PX_PER_UNIT)) + GAPS[c] + 1
                        for c in range(10))

# ---- x axis title ----
xlab = figure(width=grid_w, height=26, output_backend="svg", toolbar_location=None,
              x_range=Range1d(0, 1), y_range=Range1d(0, 1),
              x_axis_location=None, y_axis_location=None,
              min_border_left=0, min_border_right=0, min_border_top=0, min_border_bottom=0)
xlab.outline_line_color = None
xlab.grid.visible = False
xlab.background_fill_color = "white"
xlab.border_fill_color = "white"
xlab.add_layout(Label(x=645, y=16, x_units="screen", y_units="screen",
                      text="Genomic position (\u00d710 Mb)", text_align="center",
                      text_baseline="middle", text_font=FONT, text_font_size="16px",
                      text_color="black"))

# ---- thin grey rule at the top of the page ----
topbar = figure(width=1288, height=11, output_backend="svg", toolbar_location=None,
                x_range=Range1d(0, 1288), y_range=Range1d(0, 11),
                x_axis_location=None, y_axis_location=None,
                min_border_left=0, min_border_right=0, min_border_top=0, min_border_bottom=0)
topbar.outline_line_color = None
topbar.grid.visible = False
topbar.background_fill_color = "white"
topbar.border_fill_color = "white"
topbar.segment(x0=[10], y0=[1.0], x1=[1288], y1=[1.0], line_color="#bdbdbd", line_width=1.3)

caption_html = (
    '<div style="margin-left:37px; font-family:Lato, sans-serif; color:#5c5c5c;">'
    '<div style="font-size:13.5px; font-weight:700; color:#6a6a6a; letter-spacing:0.3px; height:16px; line-height:16px; margin-top:9px;">FIGURE 1</div>'
    '<div style="font-size:18.5px; letter-spacing:0.4px; line-height:23.8px; margin-top:7px; white-space:nowrap;">'
    'Bulk segregant analysis examining pools of photoperiod-insensitive and photoperiod-sensitive plants from GVA-H-20-1080. A physical<br>'
    'genomic window size of 2 Mb and step size of 10 kb is shown. <b style="color:#444">(A)</b> Chromosomal distribution of SNPs. Total SNP number is in blue and<br>'
    'significant SNP number (Fisher Exact Test <i>P</i> &lt; 0.01) is in black. <b style="color:#444">(B)</b> Ratio of significant SNPs:Total SNPs across chromosomes. <b style="color:#444">(C)</b> G-Test statistic<br>'
    'values across chromosomes. <b style="color:#444">(D)</b> Delta-allele frequency (\u0394AF) values across chromosomes. Red lines represents significance thresholds<br>'
    'determined by simulation of 10000 SNPs given allele depths at the 99.5th percentile for significant SNPs:Total SNPs and G-statistic, and the 99%<br>'
    'confidence interval for \u0394AF values.'
    '</div></div>'
)
caption = Div(text=caption_html, width=1274, height=180)

main = row([gut, column(grid_rows, spacing=0)], spacing=0)
layout = column([topbar, main, xlab, caption], spacing=0)

open("out.html", "w").write(file_html(layout, INLINE))
